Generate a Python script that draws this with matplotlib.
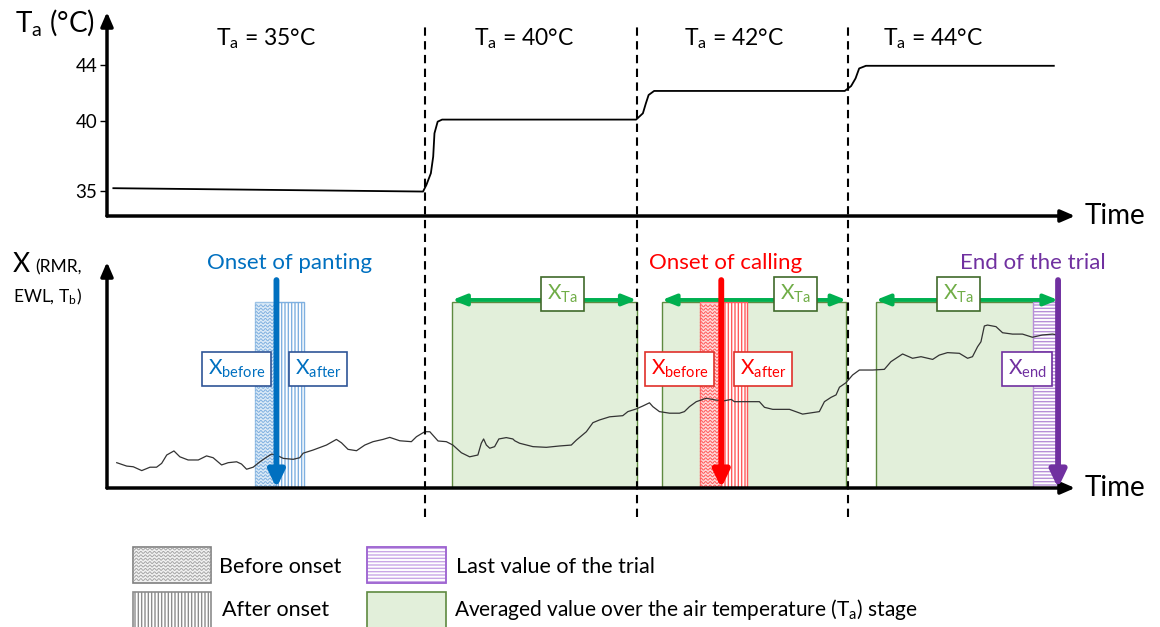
import numpy as np
import matplotlib.pyplot as plt
from matplotlib.patches import Rectangle

plt.rcParams["font.family"] = ["Lato", "DejaVu Sans"]
plt.rcParams["mathtext.default"] = "regular"

# Temperature stages (start time, set point) and where their labels sit
stage_start = [0, 150, 250, 350]
stage_temp = [35, 40, 42, 44]
stage_label_t = [75, 197, 296, 390]

# Air temperature trace
ta_time = [3, 149.2, 150.8, 152.9, 154.0, 154.6, 156.1, 158.2, 249.8, 253.0,
           254.4, 255.7, 258.3, 348.3, 351.3, 353.4, 355.1, 358.3, 447]
ta_value = [35.19, 34.95, 35.43, 36.26, 37.45, 39.12, 39.95, 40.1, 40.1, 40.55,
            41.26, 41.86, 42.15, 42.15, 42.5, 43.05, 43.76, 43.95, 43.95]

# Physiological variable X (RMR, EWL, Tb), arbitrary units
x_time = [4.6, 9.3, 12.4, 16.4, 20.3, 23.4, 25.8, 28.2, 31.6, 34.4,
          38.3, 43.1, 47.0, 50.1, 54.1, 57.2, 61.2, 63.5, 65.9, 69.0,
          72.2, 75.3, 77.7, 80.0, 83.2, 87.9, 91.0, 92.6, 97.3, 103.6,
          108.3, 110.7, 113.8, 117.8, 121.7, 125.6, 130.3, 133.5, 138.2, 143.7,
          146.1, 150.0, 152.4, 156.3, 160.2, 163.3, 167.3, 171.2, 175.1, 176.7,
          177.8, 179.1, 180.7, 183.0, 185.0, 188.5, 191.6, 192.5, 194.8, 201.1,
          207.4, 213.7, 219.2, 221.6, 226.3, 229.4, 232.5, 237.3, 243.5, 245.9,
          249.9, 253.0, 256.1, 257.7, 260.8, 265.6, 270.3, 272.6, 275.0, 278.2,
          282.9, 287.6, 291.5, 294.7, 296.2, 308.0, 310.4, 314.3, 322.2, 328.4,
          336.3, 338.7, 341.8, 344.2, 345.8, 348.9, 352.0, 355.2, 361.5, 367.0,
          370.1, 375.6, 380.3, 384.3, 389.8, 392.9, 396.8, 402.4, 406.3, 408.6,
          411.0, 412.6, 414.2, 415.7, 419.7, 422.8, 427.5, 432.2, 436.9, 441.6,
          446.4, 449.0]
x_value = [11.2, 9.7, 9.4, 7.7, 9.2, 9.2, 10.9, 14.6, 16.4, 13.8,
           12.4, 12.4, 14.2, 13.4, 10.2, 11.2, 11.6, 10.6, 8.3, 9.2,
           11.6, 13.6, 15.0, 14.6, 13.1, 12.7, 13.4, 15.4, 16.8, 19.0,
           21.5, 20.0, 17.1, 16.5, 19.0, 20.5, 21.5, 22.4, 20.9, 20.5,
           22.7, 24.9, 24.9, 20.8, 20.5, 19.0, 15.6, 13.8, 14.6, 19.8,
           21.7, 19.0, 17.6, 18.3, 21.7, 22.3, 21.7, 20.9, 19.8, 18.3,
           18.0, 18.6, 19.0, 21.2, 24.9, 28.9, 30.1, 31.5, 32.0, 33.8,
           35.0, 36.3, 37.7, 36.0, 33.8, 33.1, 33.1, 33.8, 36.0, 38.2,
           39.7, 38.9, 38.6, 39.2, 38.2, 38.2, 35.7, 34.8, 34.8, 32.7,
           33.8, 38.2, 40.1, 41.2, 44.6, 46.6, 50.0, 52.2, 52.2, 52.5,
           55.9, 59.3, 57.4, 58.1, 56.9, 58.8, 59.9, 59.6, 57.4, 58.1,
           62.5, 64.7, 71.7, 72.1, 71.4, 68.7, 68.1, 68.1, 66.7, 67.7,
           68.1, 67.7]

# Events and averaging windows (time)
panting_onset = 80
panting_before = (70, 80)
panting_after = (80, 93)
calling_onset = 290
calling_before = (280, 290)
calling_after = (290, 302)
avg_windows = [(163, 250), (262, 349), (363, 449)]
xta_label_t = [215, 325, 402]
trial_end = 449
end_window = (437, 449)

BLUE = "#0070C0"
RED = "#FF0000"
PURPLE = "#7030A0"
GREEN = "#00B050"
GREEN_FILL = "#E2EFDA"
GREEN_EDGE = "#5E8A40"


def wavy_fill(ax, x0, x1, y0, y1, color, lw=0.7, gap=3.4, amp=1.0, wave=4.5, z=1.5):
    # rows of small waves inside a box; gap/amp/wave are in pixels
    p0 = ax.transData.transform((x0, y0))
    p1 = ax.transData.transform((x1, y1))
    kx = abs(p1[0] - p0[0]) / abs(x1 - x0)
    ky = abs(p1[1] - p0[1]) / abs(y1 - y0)
    lo, hi = min(y0, y1), max(y0, y1)
    xs = np.linspace(x0, x1, int(abs(p1[0] - p0[0])) * 3 + 2)
    wiggle = amp / ky * np.sin((xs - x0) * kx / wave * 2 * np.pi)
    for yc in np.arange(lo + (amp + 1) / ky, hi - amp / ky, gap / ky):
        ax.plot(xs, yc + wiggle, color=color, lw=lw, zorder=z, solid_capstyle="butt")


def axis_arrows(ax):
    for tip in [(1, 0), (0, 1)]:
        ax.annotate("", xy=tip, xytext=(0, 0), xycoords="axes fraction",
                    arrowprops=dict(arrowstyle="-|>,head_length=0.6,head_width=0.26",
                                    lw=2.5, color="black", mutation_scale=14,
                                    shrinkA=0, shrinkB=0))
    ax.text(1.010, 0, "Time", transform=ax.transAxes, ha="left", va="center", fontsize=20)


fig = plt.figure(figsize=(11.6, 6.27), dpi=100)
W, H = 1160, 627
ax_t = fig.add_axes([107 / W, (H - 216) / H, 968 / W, 204 / H])
ax_x = fig.add_axes([107 / W, (H - 488) / H, 968 / W, 226 / H])
ax_t.set_zorder(3)
for ax in (ax_t, ax_x):
    ax.set_xlim(0, 457)
    ax.patch.set_visible(False)
    for s in ax.spines.values():
        s.set_visible(False)
    ax.set_xticks([])

# --- air temperature panel ---
ax_t.set_ylim(33.2, 47.8)
ax_t.set_yticks([35, 40, 44])
ax_t.tick_params(axis="y", length=5, width=1, labelsize=13.5, pad=2)
ax_t.plot(ta_time, ta_value, color="black", lw=1.3)
axis_arrows(ax_t)
for t0 in stage_start[1:]:
    ax_t.axvline(t0, ymin=-1.475, ymax=0.951, color="black", lw=1.5,
                 ls=(0, (4, 2.6)), clip_on=False, zorder=5)
for tl, temp in zip(stage_label_t, stage_temp):
    ax_t.text(tl, 45.9, "$T_a$ = %d°C" % temp, ha="center", va="center", fontsize=16.5)
fig.text(15 / W, 1 - 7 / H, "$T_a$ (°C)", ha="left", va="top", fontsize=20)

# --- X panel ---
ax_x.set_ylim(0, 100)
ax_x.set_yticks([])
axis_arrows(ax_x)
fig.text(13 / W, 1 - 265 / H, "X", ha="left", va="center", fontsize=19)
fig.text(35 / W, 1 - 267 / H, "(RMR,", ha="left", va="center", fontsize=12.5)
fig.text(13 / W, 1 - 297 / H, "EWL, $T_b$)", ha="left", va="center", fontsize=12.5)

top = 82.5
arrow_y = 83.2

# averaging windows per temperature stage
for (a, b), tl in zip(avg_windows, xta_label_t):
    ax_x.add_patch(Rectangle((a, 0), b - a, top, facecolor=GREEN_FILL,
                             edgecolor=GREEN_EDGE, lw=1.0, zorder=1))
    ax_x.annotate("", xy=(b, arrow_y), xytext=(a, arrow_y),
                  arrowprops=dict(arrowstyle="<|-|>,head_length=0.55,head_width=0.22",
                                  lw=2.8, color=GREEN, mutation_scale=15,
                                  shrinkA=0, shrinkB=0), zorder=4)
    ax_x.text(tl, 85.8, "$X_{Ta}$", ha="center", va="center", fontsize=15, color="#70AD47",
              zorder=6, bbox=dict(boxstyle="square,pad=0.3", fc="white", ec="#3F6A2A", lw=1.2))

# onset windows: before (wavy) and after (vertical lines)
for before, after, fill, line, edge in [
        (panting_before, panting_after, "#DDEBF7", "#7FB0E0", "#9DC3E6"),
        (calling_before, calling_after, "#FFD9D9", "#FF5A5A", "#FF7070")]:
    ax_x.add_patch(Rectangle((before[0], 0), before[1] - before[0], top,
                             facecolor=fill, edgecolor=edge, lw=1.0, zorder=1.2))
    wavy_fill(ax_x, before[0], before[1], 0, top, line)
    ax_x.add_patch(Rectangle((after[0], 0), after[1] - after[0], top, facecolor="white",
                             edgecolor=line, hatch="|||||", lw=1.0, zorder=1.2))

# last value of the trial
ax_x.add_patch(Rectangle((end_window[0], 0), end_window[1] - end_window[0], top,
                         facecolor="white", edgecolor="#B78FD8", hatch="-----",
                         lw=1.0, zorder=1.3))

ax_x.plot(x_time, x_value, color="#333333", lw=0.9, zorder=2.5)

# event arrows and titles
for t, txt, tx, col in [(panting_onset, "Onset of panting", 86, BLUE),
                        (calling_onset, "Onset of calling", 292, RED),
                        (trial_end, "End of the trial", 437, PURPLE)]:
    ax_x.annotate("", xy=(t, 0), xytext=(t, 92),
                  arrowprops=dict(arrowstyle="-|>,head_length=0.5,head_width=0.24",
                                  lw=4.2, color=col, mutation_scale=20,
                                  shrinkA=0, shrinkB=0), zorder=5)
    ax_x.text(tx, 99.5, txt, ha="center", va="center", fontsize=16, color=col)

box = dict(boxstyle="square,pad=0.28", fc="white", lw=1.2)
for t, txt, col, ec in [(61.3, "$X_{before}$", BLUE, "#2F5597"),
                        (99.7, "$X_{after}$", BLUE, "#2F5597"),
                        (270.3, "$X_{before}$", RED, "#E0302A"),
                        (309.8, "$X_{after}$", RED, "#E0302A"),
                        (434.3, "$X_{end}$", PURPLE, PURPLE)]:
    ax_x.text(t, 52.8, txt, ha="center", va="center", fontsize=15, color=col,
              zorder=6, bbox=dict(box, ec=ec))

# --- key below the panels ---
lax = fig.add_axes([0, 0, 1, 1], zorder=-1)
lax.set_xlim(0, W)
lax.set_ylim(H, 0)
lax.axis("off")
lax.add_patch(Rectangle((133, 547), 78, 36, facecolor="#F2F2F2", edgecolor="#7F7F7F", lw=1.2))
wavy_fill(lax, 133, 211, 547, 583, "#A6A6A6", z=2)
lax.add_patch(Rectangle((133, 592), 78, 38, facecolor="white", edgecolor="#8C8C8C",
                        hatch="|||||", lw=1.2))
lax.add_patch(Rectangle((367, 547), 79, 36, facecolor="white", edgecolor="#C9A6E6",
                        hatch="-----", lw=1.2))
lax.add_patch(Rectangle((367, 547), 79, 36, facecolor="none", edgecolor="#9A5FCF", lw=1.2))
lax.add_patch(Rectangle((367, 592), 79, 38, facecolor=GREEN_FILL, edgecolor=GREEN_EDGE, lw=1.2))
lax.text(219, 567, "Before onset", ha="left", va="center", fontsize=15.5)
lax.text(222, 610, "After onset", ha="left", va="center", fontsize=15.5)
lax.text(456, 567, "Last value of the trial", ha="left", va="center", fontsize=15.5)
lax.text(454, 610, "Averaged value over the air temperature ($T_a$) stage",
         ha="left", va="center", fontsize=15)

fig.savefig("out.png", dpi=100)
